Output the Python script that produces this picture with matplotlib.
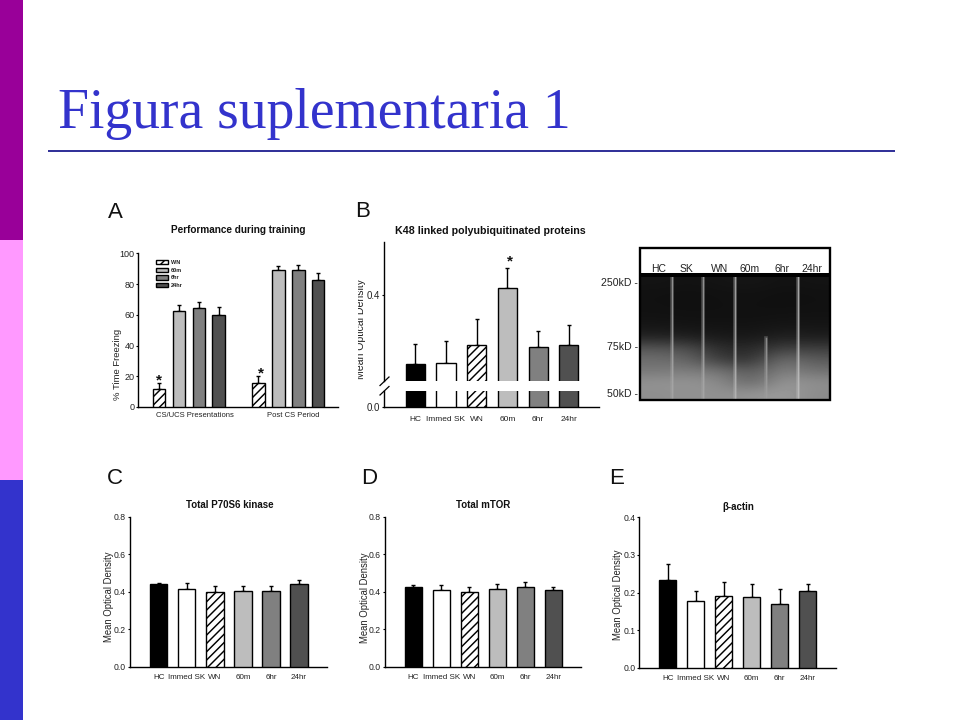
import numpy as np
import matplotlib
matplotlib.use("Agg")
import matplotlib.pyplot as plt
from matplotlib.patches import Patch, Rectangle

plt.rcParams['font.family'] = ['Liberation Sans', 'DejaVu Sans']
plt.rcParams['hatch.linewidth'] = 1.05

W, H = 960, 720
TEXT = '#222222'

groups = ['HC', 'Immed SK', 'WN', '60m', '6hr', '24hr']
bar_colors = ['#000000', '#ffffff', '#ffffff', '#bdbdbd', '#808080', '#505050']
bar_hatches = ['', '', '////', '', '', '']

# panel A
a_labels = ['WN', '60m', '6hr', '24hr']
a_colors = ['#ffffff', '#bdbdbd', '#808080', '#505050']
a_hatches = ['////', '', '', '']
a_cs_ucs = [11.9, 62.3, 64.2, 59.9]
a_cs_ucs_err = [3.9, 3.9, 4.3, 5.0]
a_post_cs = [15.6, 89.4, 89.4, 82.4]
a_post_cs_err = [4.4, 2.1, 2.8, 4.8]

# panel B, axis is broken so only 0.0 and 0.4 are labelled
b_vals = [0.263, 0.264, 0.300, 0.415, 0.297, 0.300]
b_err = [0.040, 0.044, 0.053, 0.040, 0.032, 0.041]

c_vals = [0.442, 0.413, 0.400, 0.403, 0.406, 0.442]
c_err = [0.007, 0.032, 0.031, 0.028, 0.025, 0.019]

d_vals = [0.426, 0.410, 0.400, 0.413, 0.427, 0.410]
d_err = [0.012, 0.025, 0.027, 0.030, 0.025, 0.017]

e_vals = [0.232, 0.177, 0.192, 0.187, 0.170, 0.203]
e_err = [0.043, 0.027, 0.037, 0.035, 0.039, 0.020]

blot_lanes = ['HC', 'SK', 'WN', '60m', '6hr', '24hr']
blot_marks = ['250kD -', '75kD -', '50kD -']

# grey level of the blot, one row per height (top to bottom), one column per lane
blot_grey = [
    [20, 18, 20, 22, 18, 20],
    [17, 16, 17, 18, 16, 17],
    [17, 16, 17, 17, 16, 17],
    [18, 17, 17, 17, 18, 18],
    [22, 20, 20, 19, 22, 22],
    [36, 32, 26, 24, 34, 30],
    [88, 80, 44, 40, 66, 62],
    [110, 102, 60, 48, 114, 90],
    [120, 126, 118, 88, 130, 112],
    [146, 148, 140, 98, 152, 142],
    [142, 146, 144, 148, 156, 138],
]
# lane separators: start height (0 top, 1 bottom) and grey level
blot_sep_start = [0.0, 0.0, 0.0, 0.5, 0.0]
blot_sep_grey = [0.66, 0.66, 0.72, 0.62, 0.76]

fig = plt.figure(figsize=(9.6, 7.2), dpi=100, facecolor='white')


def add_axes_px(x0, y_top, x1, y_bot):
    return fig.add_axes([x0 / W, 1 - y_bot / H, (x1 - x0) / W, (y_bot - y_top) / H])


def text_px(x, y, s, **kw):
    kw.setdefault('color', TEXT)
    kw.setdefault('ha', 'center')
    kw.setdefault('va', 'center')
    return fig.text(x / W, 1 - y / H, s, **kw)


def draw_bars(ax, xs, vals, errs, colors, hatches, width=0.62):
    ax.bar(xs, vals, width=width, color=colors, edgecolor='black', linewidth=1.0,
           hatch=hatches, zorder=3)
    ax.errorbar(xs, vals, yerr=[np.zeros(len(errs)), errs], fmt='none', ecolor='black',
                elinewidth=1.0, capsize=1.5, capthick=1.0, zorder=2)


def style_axis(ax, size=6.2):
    ax.spines['top'].set_visible(False)
    ax.spines['right'].set_visible(False)
    ax.spines['left'].set_linewidth(1.0)
    ax.spines['bottom'].set_linewidth(1.0)
    ax.tick_params(axis='y', direction='out', length=1.8, width=0.8, labelsize=size,
                   pad=1.0, labelcolor=TEXT)
    ax.patch.set_alpha(0)


def small_panel(x0, x1, y_top, y_bot, first_px, step_px, vals, errs, ymax, yticks, fmt):
    ax = add_axes_px(x0, y_top, x1, y_bot)
    xs = np.arange(len(vals))
    draw_bars(ax, xs, vals, errs, bar_colors, bar_hatches)
    ax.set_xlim((x0 - first_px) / step_px, (x1 - first_px) / step_px)
    ax.set_ylim(0, ymax)
    ax.set_yticks(yticks)
    ax.set_yticklabels([fmt % t for t in yticks])
    ax.set_xticks(xs)
    ax.set_xticklabels(groups, fontsize=5.8, color=TEXT)
    ax.tick_params(axis='x', length=0, pad=5)
    style_axis(ax)
    return ax


# slide furniture
fig.add_artist(Rectangle((0, 2 / 3), 23 / W, 1 / 3, transform=fig.transFigure, color='#990099', lw=0))
fig.add_artist(Rectangle((0, 1 / 3), 23 / W, 1 / 3, transform=fig.transFigure, color='#ff99ff', lw=0))
fig.add_artist(Rectangle((0, 0), 23 / W, 1 / 3, transform=fig.transFigure, color='#3333cc', lw=0))
fig.add_artist(Rectangle((48 / W, 1 - 152 / H), 847 / W, 2 / H, transform=fig.transFigure,
                         color='#333399', lw=0))
text_px(58, 128.5, 'Figura suplementaria 1', family='Liberation Serif', fontsize=40.1,
        color='#3333cc', ha='left', va='baseline')

# panel letters
for letter, x, y in [('A', 115, 212), ('B', 363, 211), ('C', 115, 478), ('D', 369, 478), ('E', 617, 478)]:
    text_px(x, y, letter, fontsize=16, color='#111111')

# A
ax_a = add_axes_px(138.3, 253.3, 338, 407)
a_xs = np.arange(4)
a_xs2 = a_xs + 5
draw_bars(ax_a, a_xs, a_cs_ucs, a_cs_ucs_err, a_colors, a_hatches)
draw_bars(ax_a, a_xs2, a_post_cs, a_post_cs_err, a_colors, a_hatches)
ax_a.set_xlim(-1.03, 8.99)
ax_a.set_ylim(0, 100)
ax_a.set_yticks(np.arange(0, 101, 20))
ax_a.set_xticks([])
style_axis(ax_a, 6.5)
ax_a.text(a_xs[0] + 0.03, a_cs_ucs[0] + a_cs_ucs_err[0] + 1.5, '*', fontsize=11, ha='center', va='center',
          fontweight='bold', color='#111111', zorder=5)
ax_a.text(a_xs2[0] + 0.12, a_post_cs[0] + a_post_cs_err[0] + 1.5, '*', fontsize=11, ha='center', va='center',
          fontweight='bold', color='#111111', zorder=5)
handles = [Patch(facecolor=c, edgecolor='black', hatch=h, lw=1.0, label=l)
           for c, h, l in zip(a_colors, a_hatches, a_labels)]
leg = ax_a.legend(handles=handles, loc='upper left', bbox_to_anchor=(0.088, 0.955), frameon=False,
                  prop={'weight': 'bold', 'size': 4}, handlelength=2.1, handleheight=0.8,
                  labelspacing=0.45, handletextpad=0.65, borderpad=0, borderaxespad=0)
for t in leg.get_texts():
    t.set_color(TEXT)
text_px(194.5, 416, 'CS/UCS Presentations', fontsize=5.5)
text_px(293.7, 416, 'Post CS Period', fontsize=5.5)
text_px(238.7, 230, 'Performance during training', fontsize=7.2, fontweight='bold', color='#111111')
text_px(117, 364, '% Time Freezing', fontsize=6.8, rotation=90)

# B, two axes for the broken scale
b_xs = np.arange(len(b_vals))
b_lim = ((384.3 - 415.3) / 30.7, (599 - 415.3) / 30.7)
ax_b = add_axes_px(384.3, 241.7, 599, 381.3)
draw_bars(ax_b, b_xs, b_vals, b_err, bar_colors, bar_hatches)
ax_b.set_xlim(b_lim)
ax_b.set_ylim(0.228, 0.507)
ax_b.set_yticks([0.4])
ax_b.set_yticklabels(['0.4'])
ax_b.set_xticks([])
style_axis(ax_b, 7)
ax_b.spines['bottom'].set_visible(False)

ax_b2 = add_axes_px(384.3, 391, 599, 407)
draw_bars(ax_b2, b_xs, b_vals, b_err, bar_colors, bar_hatches)
ax_b2.set_xlim(b_lim)
ax_b2.set_ylim(0, 0.032)
ax_b2.set_yticks([0])
ax_b2.set_yticklabels(['0.0'])
ax_b2.set_xticks(b_xs)
ax_b2.set_xticklabels(groups, fontsize=6, color=TEXT)
ax_b2.tick_params(axis='x', length=0, pad=6.5)
style_axis(ax_b2, 7)

# break marks on the y axis
for y_px in (381.5, 391):
    fig.add_artist(plt.Line2D([380 / W, 389 / W], [1 - (y_px + 4) / H, 1 - (y_px - 4.5) / H], color='black', lw=0.9))
text_px(490.7, 230.5, 'K48 linked polyubiquitinated proteins', fontsize=7.7, fontweight='bold', color='#111111')
text_px(509.5, 261, '*', fontsize=11, fontweight='bold', color='#111111')
text_px(361.5, 329, 'Mean Optical Density', fontsize=7.6, rotation=90, zorder=5)
# the tops of the letters are cut off in the source scan
fig.add_artist(Rectangle((353 / W, 1 - 382 / H), 4.7 / W, 106 / H, transform=fig.transFigure,
                         color='white', lw=0, zorder=6))

# blot
blot_x0, blot_x1 = 640.5, 829
ax_blot = add_axes_px(blot_x0, 277, blot_x1, 399.5)
ax_blot.imshow(np.array(blot_grey), cmap='gray', vmin=0, vmax=255, aspect='auto',
               interpolation='bicubic', extent=(0, 6, 1, 0))
for i, (start, g) in enumerate(zip(blot_sep_start, blot_sep_grey)):
    ax_blot.plot([i + 1.0, i + 1.0], [start, 1], color=str(g), lw=2.6, alpha=0.35)
    ax_blot.plot([i + 1.0, i + 1.0], [start, 1], color=str(g), lw=1.0, alpha=0.75)
ax_blot.set_xlim(0, 6)
ax_blot.set_ylim(1, 0)
ax_blot.set_xticks([])
ax_blot.set_yticks([])
for s in ax_blot.spines.values():
    s.set_visible(False)

for lane, x in zip(blot_lanes, [658.5, 686, 720, 750, 781.7, 811.7]):
    text_px(x, 269, lane, fontsize=7.5)
# black bar cuts the feet of the lane names
fig.add_artist(Rectangle((640 / W, 1 - 277 / H), 190 / W, 4 / H, transform=fig.transFigure,
                         color='black', lw=0, zorder=6))
fig.add_artist(Rectangle((640 / W, 1 - 400 / H), 190 / W, 151.5 / H, transform=fig.transFigure,
                         fill=False, edgecolor='black', lw=1.7, zorder=6))
text_px(638, 283.3, blot_marks[0], fontsize=7.6, ha='right')
text_px(638, 346.7, blot_marks[1], fontsize=7.6, ha='right')
text_px(638, 394.3, blot_marks[2], fontsize=7.6, ha='right')

# C, D, E
small_panel(130, 326.7, 516.7, 667, 158.7, 28.07, c_vals, c_err, 0.8, [0, 0.2, 0.4, 0.6, 0.8], '%.1f')
text_px(230, 504.5, 'Total P70S6 kinase', fontsize=7, fontweight='bold', color='#111111')
text_px(109.5, 597, 'Mean Optical Density', fontsize=6.85, rotation=90)

small_panel(385, 581, 516.7, 667, 413.3, 28.0, d_vals, d_err, 0.8, [0, 0.2, 0.4, 0.6, 0.8], '%.1f')
text_px(483.3, 504.5, 'Total mTOR', fontsize=7, fontweight='bold', color='#111111')
text_px(364.5, 598, 'Mean Optical Density', fontsize=6.85, rotation=90)

small_panel(639.3, 835.7, 517.3, 667.7, 667.7, 28.0, e_vals, e_err, 0.4, [0, 0.1, 0.2, 0.3, 0.4], '%.1f')
text_px(738.7, 506.7, '\u03b2-actin', fontsize=7, fontweight='bold', color='#111111')
text_px(617.7, 595, 'Mean Optical Density', fontsize=6.85, rotation=90)

fig.savefig('out.png', dpi=100)
